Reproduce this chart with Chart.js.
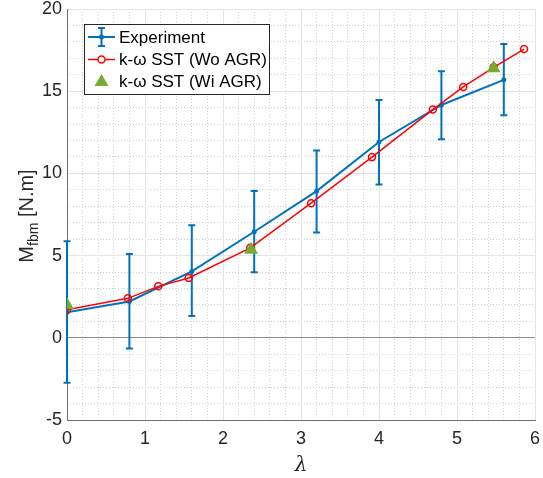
<!DOCTYPE html>
<html>
<head>
<meta charset="utf-8">
<script src="https://cdn.jsdelivr.net/npm/chart.js@4/dist/chart.umd.min.js"></script>
<style>
  html, body { margin: 0; padding: 0; background: #fff; }
  #wrap { width: 543px; height: 478px; }
</style>
</head>
<body>
<div id="wrap"><canvas id="momentChart" width="543" height="478"></canvas></div>
<script>
// Datos
const expX = [0, 0.8, 1.6, 2.4, 3.2, 4.0, 4.8, 5.6];
const expY = [1.55, 2.21, 4.04, 6.45, 8.92, 11.91, 14.16, 15.69];
const expLow = [-2.73, -0.65, 1.32, 3.98, 6.4, 9.33, 12.07, 13.54];
const expHigh = [5.88, 5.09, 6.85, 8.93, 11.4, 14.47, 16.22, 17.87];

const woX = [0, 0.78, 1.17, 1.56, 2.35, 3.13, 3.91, 4.69, 5.08, 5.47, 5.86];
const woY = [1.71, 2.40, 3.13, 3.64, 5.47, 8.19, 10.99, 13.88, 15.26, 16.45, 17.56];

const wiX = [0, 2.36, 5.47];
const wiY = [2.0, 5.35, 16.4];

const xTicks = [0, 1, 2, 3, 4, 5, 6];
const yTicks = [-5, 0, 5, 10, 15, 20];

const legendLabels = ["Experiment", "k-\u03c9 SST (Wo AGR)", "k-\u03c9 SST (Wi AGR)"];

const blue = "#0072BD";
const red = "#FF0000";
const green = "#77AC30";
const textColor = "#262626";

function toPoints(xs, ys) {
    return xs.map((x, i) => ({ x: x, y: ys[i] }));
}

// Barras de error del experimento
const errorBars = {
    id: "errorBars",
    beforeDatasetsDraw(chart) {
        const ctx = chart.ctx;
        const xs = chart.scales.x;
        const ys = chart.scales.y;
        ctx.save();
        ctx.strokeStyle = blue;
        ctx.lineWidth = 2;
        for (let i = 0; i < expX.length; i++) {
            const px = xs.getPixelForValue(expX[i]);
            const top = ys.getPixelForValue(expHigh[i]);
            const bot = ys.getPixelForValue(expLow[i]);
            ctx.beginPath();
            ctx.moveTo(px, top);
            ctx.lineTo(px, bot);
            ctx.moveTo(px - 3.5, top);
            ctx.lineTo(px + 3.5, top);
            ctx.moveTo(px - 3.5, bot);
            ctx.lineTo(px + 3.5, bot);
            ctx.stroke();
        }
        ctx.restore();
    }
};

// Leyenda dentro del area del grafico
const insideLegend = {
    id: "insideLegend",
    afterDraw(chart) {
        const ctx = chart.ctx;
        const left = 84, top = 24, w = 185, h = 70;
        ctx.save();
        ctx.fillStyle = "#fff";
        ctx.fillRect(left, top, w, h);
        ctx.strokeStyle = textColor;
        ctx.lineWidth = 1;
        ctx.strokeRect(left + 0.5, top + 0.5, w, h);

        const rows = [37, 59.5, 81];
        const x0 = 88, x1 = 115, xm = 101.5;

        // Experimento
        ctx.strokeStyle = blue;
        ctx.lineWidth = 2;
        ctx.beginPath();
        ctx.moveTo(x0, rows[0]); ctx.lineTo(x1, rows[0]);
        ctx.moveTo(xm, rows[0] - 9); ctx.lineTo(xm, rows[0] + 9);
        ctx.moveTo(xm - 3.5, rows[0] - 9); ctx.lineTo(xm + 3.5, rows[0] - 9);
        ctx.moveTo(xm - 3.5, rows[0] + 9); ctx.lineTo(xm + 3.5, rows[0] + 9);
        ctx.stroke();
        ctx.fillStyle = blue;
        ctx.beginPath(); ctx.arc(xm, rows[0], 2.5, 0, Math.PI * 2); ctx.fill();

        // Wo AGR
        ctx.strokeStyle = red;
        ctx.lineWidth = 1.5;
        ctx.beginPath();
        ctx.moveTo(x0, rows[1]); ctx.lineTo(x1, rows[1]);
        ctx.stroke();
        ctx.fillStyle = "#fff";
        ctx.beginPath(); ctx.arc(xm, rows[1], 3.5, 0, Math.PI * 2); ctx.fill(); ctx.stroke();

        // Wi AGR
        ctx.fillStyle = green;
        ctx.beginPath();
        ctx.moveTo(xm, rows[2] - 7);
        ctx.lineTo(xm + 7, rows[2] + 5);
        ctx.lineTo(xm - 7, rows[2] + 5);
        ctx.closePath();
        ctx.fill();

        ctx.fillStyle = "#000";
        ctx.font = "17px 'Liberation Sans', Arial, sans-serif";
        ctx.textBaseline = "middle";
        legendLabels.forEach((t, i) => ctx.fillText(t, 119, rows[i] + 1));
        ctx.restore();
    }
};

// Titulo del eje Y con subindice
const yAxisTitle = {
    id: "yAxisTitle",
    afterDraw(chart) {
        const ctx = chart.ctx;
        const big = "20px 'Liberation Sans', Arial, sans-serif";
        const small = "14px 'Liberation Sans', Arial, sans-serif";
        ctx.save();
        ctx.font = big;
        const wM = ctx.measureText("M").width;
        const wR = ctx.measureText(" [N.m]").width;
        ctx.font = small;
        const wS = ctx.measureText("fbm").width;
        const total = wM + wS + wR;
        ctx.translate(27, 216);
        ctx.rotate(-Math.PI / 2);
        ctx.fillStyle = textColor;
        ctx.textBaseline = "middle";
        let x = -total / 2;
        ctx.font = big;
        ctx.fillText("M", x, 0);
        x += wM;
        ctx.font = small;
        ctx.fillText("fbm", x, 7);
        x += wS;
        ctx.font = big;
        ctx.fillText(" [N.m]", x, 0);
        ctx.restore();
    }
};

const ctx = document.getElementById("momentChart").getContext("2d");

new Chart(ctx, {
    type: "line",
    data: {
        datasets: [
            {
                label: legendLabels[0],
                data: toPoints(expX, expY),
                borderColor: blue,
                backgroundColor: blue,
                borderWidth: 2,
                pointRadius: 2.5,
                pointBorderWidth: 0,
                tension: 0,
                order: 3
            },
            {
                label: legendLabels[1],
                data: toPoints(woX, woY),
                borderColor: red,
                backgroundColor: "transparent",
                borderWidth: 1.5,
                pointRadius: 3.5,
                pointBorderWidth: 1.5,
                pointBackgroundColor: "transparent",
                tension: 0,
                order: 2
            },
            {
                label: legendLabels[2],
                data: toPoints(wiX, wiY),
                showLine: false,
                pointStyle: "triangle",
                pointRadius: 8,
                pointBorderWidth: 0,
                backgroundColor: green,
                borderColor: green,
                order: 1
            }
        ]
    },
    options: {
        responsive: false,
        animation: false,
        devicePixelRatio: 1,
        layout: { padding: { left: 0, right: 4, top: 9, bottom: 0 } },
        plugins: {
            legend: { display: false },
            tooltip: { enabled: false }
        },
        scales: {
            xMinor: {
                type: "linear", position: "bottom", min: 0, max: 6,
                ticks: { display: false, stepSize: 0.2 },
                grid: { color: "#d0d0d0", drawTicks: false, lineWidth: 1 },
                border: { display: false, dash: [1, 2] },
                afterFit(s) { s.height = 0; s.paddingLeft = 0; s.paddingRight = 0; }
            },
            yMinor: {
                type: "linear", position: "left", min: -5, max: 20,
                ticks: { display: false, stepSize: 1 },
                grid: { color: "#d0d0d0", drawTicks: false, lineWidth: 1 },
                border: { display: false, dash: [1, 2] },
                afterFit(s) { s.width = 0; s.paddingTop = 0; s.paddingBottom = 0; }
            },
            x: {
                type: "linear", position: "bottom", min: 0, max: 6,
                afterBuildTicks(s) { s.ticks = xTicks.map(v => ({ value: v })); },
                ticks: {
                    color: textColor, padding: 8,
                    font: { size: 18, family: "'Liberation Sans', Arial, sans-serif" }
                },
                grid: { color: "#e3e3e3", drawTicks: false },
                border: { color: "#6e6e6e", width: 1 },
                title: {
                    display: true, text: "\u03bb", color: textColor,
                    padding: { top: 2, bottom: 0 },
                    font: { size: 20, style: "italic", family: "'DejaVu Serif', serif" }
                },
                afterFit(s) { s.height = 58; s.paddingLeft = 0; s.paddingRight = 0; }
            },
            y: {
                type: "linear", position: "left", min: -5, max: 20,
                afterBuildTicks(s) { s.ticks = yTicks.map(v => ({ value: v })); },
                ticks: {
                    color: textColor, padding: 5,
                    font: { size: 18, family: "'Liberation Sans', Arial, sans-serif" }
                },
                grid: {
                    color: c => (c.tick && c.tick.value === 0) ? "#8c8c8c" : "#e3e3e3",
                    drawTicks: false
                },
                border: { color: "#6e6e6e", width: 1 },
                afterFit(s) { s.width = 67; s.paddingTop = 0; s.paddingBottom = 0; }
            }
        }
    },
    plugins: [errorBars, insideLegend, yAxisTitle]
});
</script>
</body>
</html>
